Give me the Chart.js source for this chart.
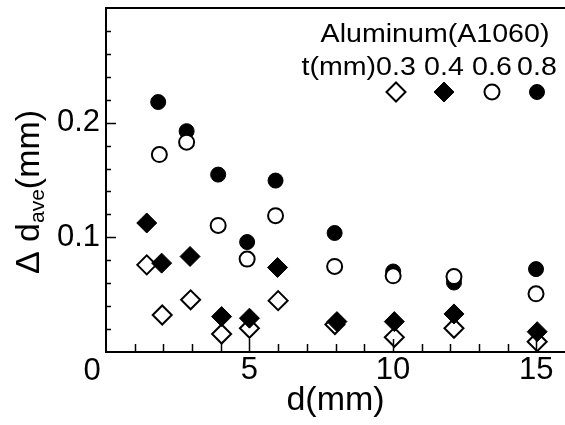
<!DOCTYPE html>
<html>
<head>
<meta charset="utf-8">
<script src="https://cdn.jsdelivr.net/npm/chart.js@4.4.1/dist/chart.umd.min.js"></script>
<style>
  html, body { margin: 0; padding: 0; background: #fff; overflow: hidden; }
</style>
</head>
<body>
<canvas id="c" width="565" height="425"></canvas>
<script>
// plate thickness t (mm) for each series
const thickness = ['0.3', '0.4', '0.6', '0.8']

// t = 0.3 (open diamonds)
const d03 = [1.42, 1.96, 2.95, 4.03, 5.0, 6.0, 7.98, 10.05, 12.13, 15.03]
const v03 = [0.076, 0.0323, 0.0455, 0.0157, 0.0207, 0.0448, 0.024, 0.0128, 0.0207, 0.009]
// t = 0.4 (filled diamonds)
const d04 = [1.42, 1.94, 2.93, 4.03, 5.0, 5.98, 8.05, 10.05, 12.13, 15.03]
const v04 = [0.1125, 0.0775, 0.0833, 0.0309, 0.0295, 0.0737, 0.0265, 0.0265, 0.0332, 0.0177]
// t = 0.6 (open circles)
const d06 = [1.86, 2.81, 3.91, 4.92, 5.91, 7.97, 10.01, 12.13, 14.99]
const v06 = [0.1722, 0.183, 0.1104, 0.081, 0.1189, 0.0746, 0.0664, 0.0658, 0.0507]
// t = 0.8 (filled circles)
const d08 = [1.82, 2.81, 3.91, 4.92, 5.91, 7.97, 10.01, 12.13, 14.99]
const v08 = [0.218, 0.1926, 0.1547, 0.0959, 0.1495, 0.1038, 0.0702, 0.0606, 0.0723]

const xLabels = [5, 10, 15]
const yLabels = [0.1, 0.2]
const xStep = 1
const yStep = 0.02

const FONT = '"Liberation Sans", Arial, sans-serif'
Chart.defaults.font.family = FONT
Chart.defaults.color = '#000'

function pts(xs, ys) {
    return xs.map((x, i) => ({x: x, y: ys[i]}))
}

// marker looks, in legend order
const looks = [
    {style: 'rectRot', filled: false, r: 9.5},
    {style: 'rectRot', filled: true, r: 10},
    {style: 'circle', filled: false, r: 7.5},
    {style: 'circle', filled: true, r: 7.5}
]
const series = [[d03, v03], [d04, v04], [d06, v06], [d08, v08]]
const drawOrder = [4, 3, 1, 2]

const datasets = series.map((s, i) => ({
    label: 't=' + thickness[i],
    data: pts(s[0], s[1]),
    pointStyle: looks[i].style,
    pointRadius: looks[i].r,
    pointHoverRadius: looks[i].r,
    backgroundColor: looks[i].filled ? '#000' : '#fff',
    borderColor: '#000',
    borderWidth: looks[i].filled ? 1 : 2,
    order: drawOrder[i]
}))

function marker(ctx, look, x, y) {
    ctx.beginPath()
    if (look.style === 'circle') {
        ctx.arc(x, y, look.r, 0, Math.PI * 2)
    } else {
        const r = look.r
        ctx.moveTo(x - r, y)
        ctx.lineTo(x, y - r)
        ctx.lineTo(x + r, y)
        ctx.lineTo(x, y + r)
        ctx.closePath()
    }
    ctx.fillStyle = look.filled ? '#000' : '#fff'
    ctx.fill()
    ctx.lineWidth = look.filled ? 1 : 2
    ctx.strokeStyle = '#000'
    ctx.stroke()
}

function wideText(ctx, str, x, y, align) {
    ctx.save()
    ctx.translate(x, y)
    ctx.scale(1.1, 1)
    ctx.textAlign = align
    ctx.fillText(str, 0, 0)
    ctx.restore()
}

const extras = {
    id: 'extras',
    afterDraw(chart) {
        const {ctx, chartArea: a, scales: {x, y}} = chart
        ctx.save()
        ctx.strokeStyle = '#000'
        ctx.fillStyle = '#000'

        // top frame line
        ctx.lineWidth = 2
        ctx.beginPath()
        ctx.moveTo(a.left - 1, a.top)
        ctx.lineTo(a.right, a.top)
        ctx.stroke()

        // inward ticks
        ctx.lineWidth = 1.5
        ctx.beginPath()
        for (let v = xStep; v < x.max; v += xStep) {
            const px = Math.round(x.getPixelForValue(v)) + 0.5
            const len = v % 5 === 0 ? 13 : 8
            ctx.moveTo(px, a.bottom)
            ctx.lineTo(px, a.bottom - len)
        }
        for (let i = 1; i * yStep < y.max - 1e-9; i++) {
            const py = Math.round(y.getPixelForValue(i * yStep)) + 0.5
            const len = i % 5 === 0 ? 10 : 5
            ctx.moveTo(a.left, py)
            ctx.lineTo(a.left + len, py)
        }
        ctx.stroke()

        // shared origin label
        ctx.font = '31px ' + FONT
        ctx.textAlign = 'center'
        ctx.textBaseline = 'middle'
        ctx.fillText('0', 92, 371)

        // y axis title with subscript
        ctx.save()
        ctx.translate(39, 192)
        ctx.rotate(-Math.PI / 2)
        ctx.textAlign = 'left'
        ctx.textBaseline = 'alphabetic'
        ctx.font = '34px ' + FONT
        const w1 = ctx.measureText('Δ d').width
        const w3 = ctx.measureText('(mm)').width
        ctx.font = '21px ' + FONT
        const w2 = ctx.measureText('ave').width
        let sx = -(w1 + w2 + w3) / 2
        ctx.font = '34px ' + FONT
        ctx.fillText('Δ d', sx, 0)
        ctx.font = '21px ' + FONT
        ctx.fillText('ave', sx + w1, 5)
        ctx.font = '34px ' + FONT
        ctx.fillText('(mm)', sx + w1 + w2, 0)
        ctx.restore()

        // legend block
        const centers = [396, 444, 492, 537]
        ctx.font = '26px ' + FONT
        ctx.textBaseline = 'alphabetic'
        wideText(ctx, 'Aluminum(A1060)', 435, 42, 'center')
        thickness.forEach((t, i) => wideText(ctx, t, centers[i], 75, 'center'))
        const half = ctx.measureText(thickness[0]).width * 1.1 / 2
        wideText(ctx, 't(mm)', centers[0] - half, 75, 'right')
        looks.forEach((lk, i) => marker(ctx, lk, centers[i], 92))

        ctx.restore()
    }
}

new Chart(document.getElementById('c'), {
    type: 'scatter',
    data: {datasets: datasets},
    options: {
        responsive: false,
        animation: false,
        devicePixelRatio: 1,
        layout: {autoPadding: false, padding: {top: 8, left: 0, right: 0, bottom: 0}},
        plugins: {legend: {display: false}, tooltip: {enabled: false}},
        scales: {
            x: {
                type: 'linear',
                min: 0,
                max: 16,
                afterBuildTicks: (s) => { s.ticks = xLabels.map(v => ({value: v})) },
                afterFit: (s) => {
                    s.height = 73
                    s.paddingLeft = 0
                    s.paddingRight = 0
                },
                ticks: {font: {size: 31}, padding: 0, maxRotation: 0, autoSkip: false, color: '#000'},
                grid: {display: false, drawTicks: false},
                border: {display: true, color: '#000', width: 2},
                title: {display: true, text: 'd(mm)', font: {size: 34}, color: '#000', padding: {top: 0, bottom: 4}}
            },
            y: {
                type: 'linear',
                min: 0,
                max: 0.3,
                afterBuildTicks: (s) => { s.ticks = yLabels.map(v => ({value: v})) },
                afterFit: (s) => {
                    s.width = 106
                    s.paddingTop = 0
                    s.paddingBottom = 0
                },
                ticks: {font: {size: 31}, padding: 6, color: '#000', callback: (v) => v.toFixed(1)},
                grid: {display: false, drawTicks: false},
                border: {display: true, color: '#000', width: 2}
            }
        }
    },
    plugins: [extras]
})
</script>
</body>
</html>
